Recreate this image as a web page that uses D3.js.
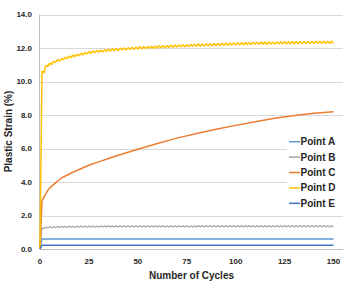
<!DOCTYPE html>
<html lang="en">
	<head>
		<meta charset="utf-8">
		<title>Plastic Strain</title>
		<script type="text/javascript" src="https://cdn.jsdelivr.net/npm/d3@7/dist/d3.min.js"></script>
		<style>
			body { margin: 0; background: #fff; }
			text { font-family: "Liberation Sans", Arial, sans-serif; font-weight: bold; fill: #262626; }
		</style>
	</head>
	<body>
			<div id="chart"></div>
			<script type="text/javascript">

var w = 349;
var h = 288;
var margin = {top: 14.5, right: 15.5, bottom: 39, left: 40};

//cycle numbers 0..150 (one point per cycle)
var cycles = d3.range(0, 151);
var cyclesC = [0, 1, 2, 3, 4, 5, 6, 8, 10, 12, 15, 20, 25, 30, 35, 40, 45, 50,
	60, 70, 80, 90, 100, 110, 120, 130, 140, 150];
var cyclesFlat = [0, 1, 150];

var pointA = [0, 0.60, 0.60];
var pointE = [0, 0.22, 0.22];

var pointB = [0,
	1.25, 1.22, 1.31, 1.25, 1.33, 1.26, 1.34, 1.27, 1.35, 1.28,
	1.36, 1.28, 1.36, 1.29, 1.37, 1.29, 1.37, 1.29, 1.37, 1.30,
	1.38, 1.30, 1.38, 1.30, 1.38, 1.30, 1.38, 1.30, 1.38, 1.30,
	1.38, 1.31, 1.38, 1.31, 1.38, 1.31, 1.38, 1.31, 1.38, 1.31,
	1.39, 1.31, 1.39, 1.31, 1.39, 1.31, 1.39, 1.31, 1.39, 1.31,
	1.39, 1.31, 1.39, 1.31, 1.39, 1.31, 1.39, 1.31, 1.39, 1.31,
	1.39, 1.31, 1.39, 1.31, 1.39, 1.31, 1.39, 1.31, 1.39, 1.31,
	1.39, 1.31, 1.39, 1.31, 1.39, 1.31, 1.39, 1.31, 1.39, 1.31,
	1.40, 1.32, 1.40, 1.32, 1.40, 1.32, 1.40, 1.32, 1.40, 1.32,
	1.40, 1.32, 1.40, 1.32, 1.40, 1.32, 1.40, 1.32, 1.40, 1.32,
	1.40, 1.32, 1.40, 1.32, 1.40, 1.32, 1.40, 1.32, 1.40, 1.32,
	1.40, 1.32, 1.40, 1.32, 1.40, 1.32, 1.40, 1.32, 1.40, 1.32,
	1.40, 1.32, 1.40, 1.32, 1.40, 1.32, 1.40, 1.32, 1.40, 1.32,
	1.40, 1.32, 1.40, 1.32, 1.40, 1.32, 1.40, 1.32, 1.40, 1.32,
	1.40, 1.32, 1.40, 1.32, 1.40, 1.32, 1.40, 1.32, 1.40, 1.32];

var pointC = [0, 2.85, 3.10, 3.30, 3.50, 3.65, 3.75, 3.95, 4.15, 4.30,
	4.48, 4.75, 5.00, 5.20, 5.40, 5.60, 5.78, 5.95,
	6.30, 6.62, 6.90, 7.15, 7.38, 7.60, 7.80, 7.97, 8.10, 8.20];

var pointD = [0,
	10.61, 10.52, 10.96, 10.91, 11.09, 11.03, 11.21, 11.14, 11.30, 11.22,
	11.38, 11.30, 11.45, 11.37, 11.52, 11.43, 11.58, 11.49, 11.63, 11.54,
	11.68, 11.59, 11.73, 11.64, 11.78, 11.68, 11.82, 11.72, 11.85, 11.75,
	11.88, 11.77, 11.90, 11.80, 11.93, 11.82, 11.95, 11.84, 11.97, 11.86,
	11.99, 11.88, 12.00, 11.89, 12.02, 11.91, 12.04, 11.92, 12.05, 11.94,
	12.07, 11.95, 12.08, 11.97, 12.09, 11.98, 12.10, 11.99, 12.11, 12.00,
	12.13, 12.01, 12.14, 12.02, 12.15, 12.04, 12.16, 12.05, 12.17, 12.06,
	12.18, 12.07, 12.19, 12.08, 12.20, 12.09, 12.21, 12.10, 12.22, 12.11,
	12.23, 12.11, 12.24, 12.12, 12.25, 12.13, 12.25, 12.14, 12.26, 12.15,
	12.27, 12.15, 12.28, 12.16, 12.29, 12.17, 12.29, 12.18, 12.30, 12.19,
	12.31, 12.19, 12.32, 12.20, 12.32, 12.21, 12.33, 12.21, 12.34, 12.22,
	12.34, 12.22, 12.35, 12.23, 12.35, 12.23, 12.36, 12.24, 12.36, 12.24,
	12.36, 12.25, 12.37, 12.25, 12.37, 12.25, 12.38, 12.26, 12.38, 12.26,
	12.38, 12.26, 12.39, 12.27, 12.39, 12.27, 12.39, 12.27, 12.39, 12.27,
	12.40, 12.28, 12.40, 12.28, 12.40, 12.28, 12.40, 12.28, 12.40, 12.28];

var seriesNames = ["Point A", "Point B", "Point C", "Point D", "Point E"];
var seriesColors = ["#5b9bd5", "#a5a5a5", "#ed7d31", "#ffc000", "#4472c4"];

var xTicks = [0, 25, 50, 75, 100, 125, 150];
var yTicks = [0, 2, 4, 6, 8, 10, 12, 14];

//Scales
var x = d3.scaleLinear()
	.domain([0, 150])
	.range([margin.left, 333.5]);

var y = d3.scaleLinear()
	.domain([0, 14])
	.range([h - margin.bottom, margin.top]);

var gridRight = 343;

var svg = d3.select("#chart")
	.append("svg")
	.attr("width", w)
	.attr("height", h);

//gridlines
svg.append("g")
	.selectAll("line")
	.data(yTicks)
	.enter()
	.append("line")
	.attr("x1", margin.left)
	.attr("x2", gridRight)
	.attr("y1", function(d) { return Math.round(y(d)) + 0.5; })
	.attr("y2", function(d) { return Math.round(y(d)) + 0.5; })
	.attr("stroke", function(d) { return d == 0 ? "#bfbfbf" : "#d9d9d9"; })
	.attr("stroke-width", 1);

//vertical axis line
svg.append("line")
	.attr("x1", margin.left - 0.5)
	.attr("x2", margin.left - 0.5)
	.attr("y1", y(14))
	.attr("y2", y(0))
	.attr("stroke", "#bfbfbf");

//tick labels
svg.append("g")
	.selectAll("text")
	.data(yTicks)
	.enter()
	.append("text")
	.attr("x", 32)
	.attr("y", function(d) { return y(d); })
	.attr("dy", "0.35em")
	.attr("text-anchor", "end")
	.style("font-size", "8px")
	.text(function(d) { return d.toFixed(1); });

svg.append("g")
	.selectAll("text")
	.data(xTicks)
	.enter()
	.append("text")
	.attr("x", function(d) { return x(d); })
	.attr("y", 263.5)
	.attr("text-anchor", "middle")
	.style("font-size", "8px")
	.text(function(d) { return d; });

//axis titles
svg.append("text")
	.attr("x", 191.5)
	.attr("y", 279)
	.attr("text-anchor", "middle")
	.style("font-size", "10px")
	.text("Number of Cycles");

svg.append("text")
	.attr("transform", "translate(11.5," + 131.5 + ") rotate(-90)")
	.attr("text-anchor", "middle")
	.style("font-size", "10px")
	.text("Plastic Strain (%)");

//series lines
var series = [
	{xs: cyclesFlat, ys: pointA},
	{xs: cycles, ys: pointB},
	{xs: cyclesC, ys: pointC},
	{xs: cycles, ys: pointD},
	{xs: cyclesFlat, ys: pointE}
];

var line = d3.line()
	.x(function(d) { return x(d[0]); })
	.y(function(d) { return y(d[1]); });

series.forEach(function(s, i) {
	var pts = s.xs.map(function(c, j) { return [c, s.ys[j]]; });
	svg.append("path")
		.datum(pts)
		.attr("d", line)
		.attr("fill", "none")
		.attr("stroke", seriesColors[i])
		.attr("stroke-width", i == 1 ? 1.2 : 1.5)
		.attr("stroke-linejoin", "round");
});

//legend
var legend = svg.append("g");

legend.append("rect")
	.attr("x", 287)
	.attr("y", 134)
	.attr("width", 58)
	.attr("height", 76)
	.attr("fill", "#fff");

var items = legend.selectAll("g.item")
	.data(seriesNames)
	.enter()
	.append("g")
	.attr("class", "item")
	.attr("transform", function(d, i) { return "translate(0," + (141.7 + i * 15.4) + ")"; });

items.append("line")
	.attr("x1", 289)
	.attr("x2", 300)
	.attr("y1", 0)
	.attr("y2", 0)
	.attr("stroke", function(d, i) { return seriesColors[i]; })
	.attr("stroke-width", 1.5);

items.append("text")
	.attr("x", 300.5)
	.attr("y", 0)
	.attr("dy", "0.35em")
	.style("font-size", "10px")
	.text(function(d) { return d; });

		</script>
	</body>
</html>
